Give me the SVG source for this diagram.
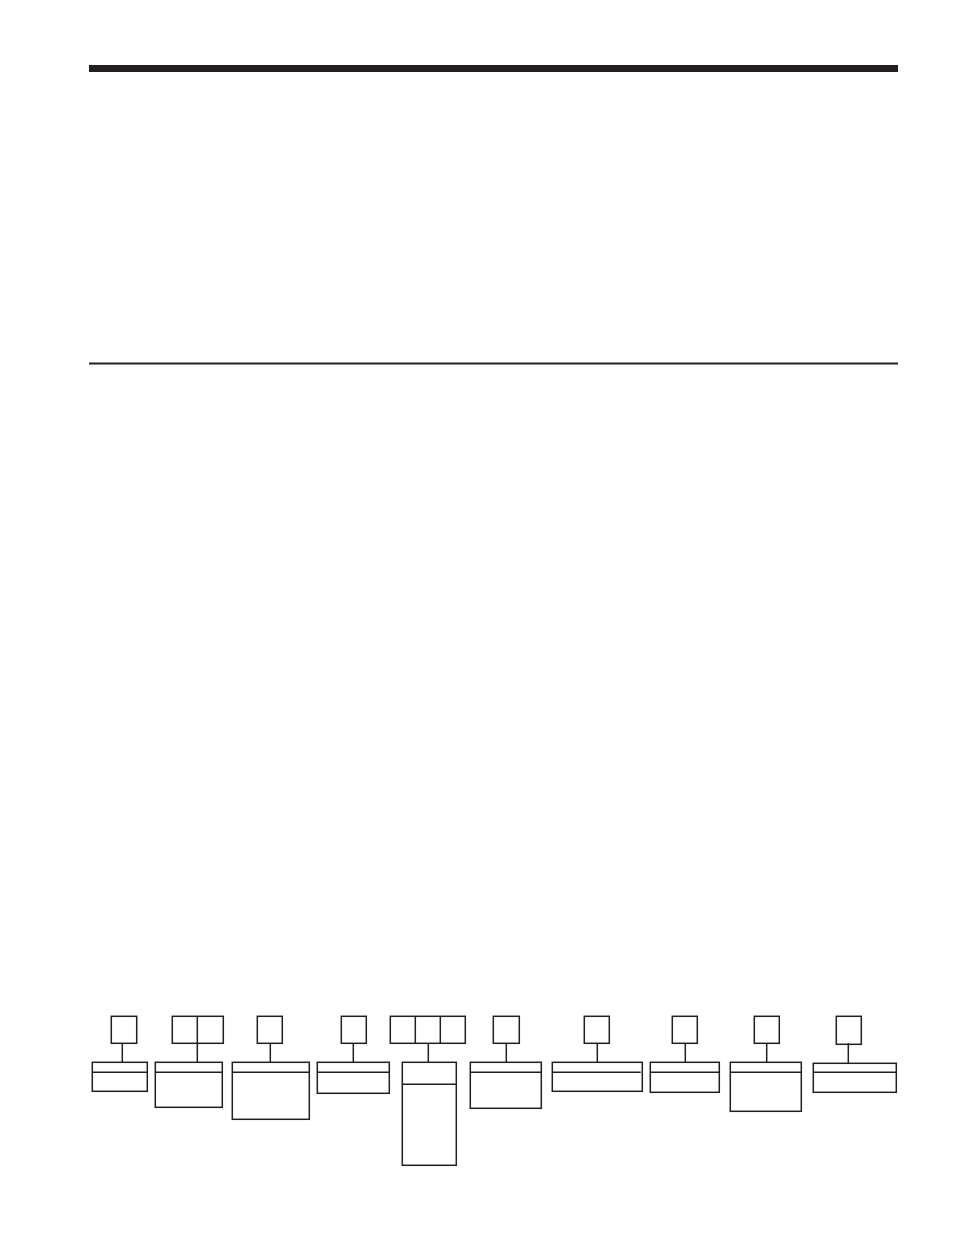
<svg xmlns="http://www.w3.org/2000/svg" width="954" height="1235" viewBox="0 0 954 1235">
<style>
.b{fill:none;stroke:#231f20;stroke-width:1.5}
.c{stroke:#231f20;stroke-width:1.5;fill:none}
</style>
<rect width="954" height="1235" fill="#fff"/>
<rect x="89" y="65" width="809" height="7" fill="#231f20"/>
<rect x="89" y="362.5" width="809" height="2" fill="#231f20"/>
<g id="connectors">
<line class="c" x1="122.3" y1="1043.3" x2="122.3" y2="1062.3"/>
<line class="c" x1="197.3" y1="1043.3" x2="197.3" y2="1062.3"/>
<line class="c" x1="270.3" y1="1043.3" x2="270.3" y2="1062.3"/>
<line class="c" x1="353.3" y1="1043.3" x2="353.3" y2="1062.3"/>
<line class="c" x1="428.3" y1="1043.3" x2="428.3" y2="1062.3"/>
<line class="c" x1="506.3" y1="1043.3" x2="506.3" y2="1062.3"/>
<line class="c" x1="597.3" y1="1043.3" x2="597.3" y2="1062.3"/>
<line class="c" x1="685.3" y1="1043.3" x2="685.3" y2="1062.3"/>
<line class="c" x1="766.7" y1="1043.3" x2="766.7" y2="1062.3"/>
<line class="c" x1="848.3" y1="1043.3" x2="848.3" y2="1063.3"/>
</g>
<g id="node1">
<rect class="b" x="111.3" y="1016.3" width="25.4" height="27"/>
<rect class="b" x="92.3" y="1062.3" width="55" height="29"/>
<line class="c" x1="92.3" y1="1072.3" x2="147.3" y2="1072.3"/>
</g>
<g id="node2">
<rect class="b" x="172.3" y="1016.3" width="51" height="27"/>
<line class="c" x1="197.3" y1="1016.3" x2="197.3" y2="1043.3"/>
<rect class="b" x="155.3" y="1062.3" width="67" height="45"/>
<line class="c" x1="155.3" y1="1072.3" x2="222.3" y2="1072.3"/>
</g>
<g id="node3">
<rect class="b" x="257.3" y="1016.3" width="25" height="27"/>
<rect class="b" x="232.3" y="1062.3" width="77" height="57"/>
<line class="c" x1="232.3" y1="1072.3" x2="309.3" y2="1072.3"/>
</g>
<g id="node4">
<rect class="b" x="341.3" y="1016.3" width="25" height="27"/>
<rect class="b" x="317.3" y="1062.3" width="72" height="31"/>
<line class="c" x1="317.3" y1="1072.3" x2="389.3" y2="1072.3"/>
</g>
<g id="node5">
<rect class="b" x="390.3" y="1016.3" width="75" height="27"/>
<line class="c" x1="415.3" y1="1016.3" x2="415.3" y2="1043.3"/>
<line class="c" x1="440.3" y1="1016.3" x2="440.3" y2="1043.3"/>
<rect class="b" x="402.3" y="1062.3" width="54" height="103"/>
<line class="c" x1="402.3" y1="1084.3" x2="456.3" y2="1084.3"/>
</g>
<g id="node6">
<rect class="b" x="493.3" y="1016.3" width="26" height="27"/>
<rect class="b" x="470.3" y="1062.3" width="71" height="46"/>
<line class="c" x1="470.3" y1="1072.3" x2="541.3" y2="1072.3"/>
</g>
<g id="node7">
<rect class="b" x="584.3" y="1016.3" width="25" height="27"/>
<rect class="b" x="552.3" y="1062.3" width="90" height="29"/>
<line class="c" x1="552.3" y1="1072.3" x2="640.7" y2="1072.3"/>
</g>
<g id="node8">
<rect class="b" x="672.3" y="1016.3" width="25" height="27"/>
<rect class="b" x="650.3" y="1062.3" width="69" height="30"/>
<line class="c" x1="650.3" y1="1072.3" x2="719.3" y2="1072.3"/>
</g>
<g id="node9">
<rect class="b" x="754.3" y="1016.3" width="25" height="27"/>
<rect class="b" x="730.3" y="1062.3" width="71" height="49"/>
<line class="c" x1="730.3" y1="1072.3" x2="801.3" y2="1072.3"/>
</g>
<g id="node10">
<rect class="b" x="836.3" y="1016.3" width="25" height="28"/>
<rect class="b" x="813.3" y="1063.3" width="83" height="29"/>
<line class="c" x1="813.3" y1="1072.3" x2="896.3" y2="1072.3"/>
</g>
</svg>
